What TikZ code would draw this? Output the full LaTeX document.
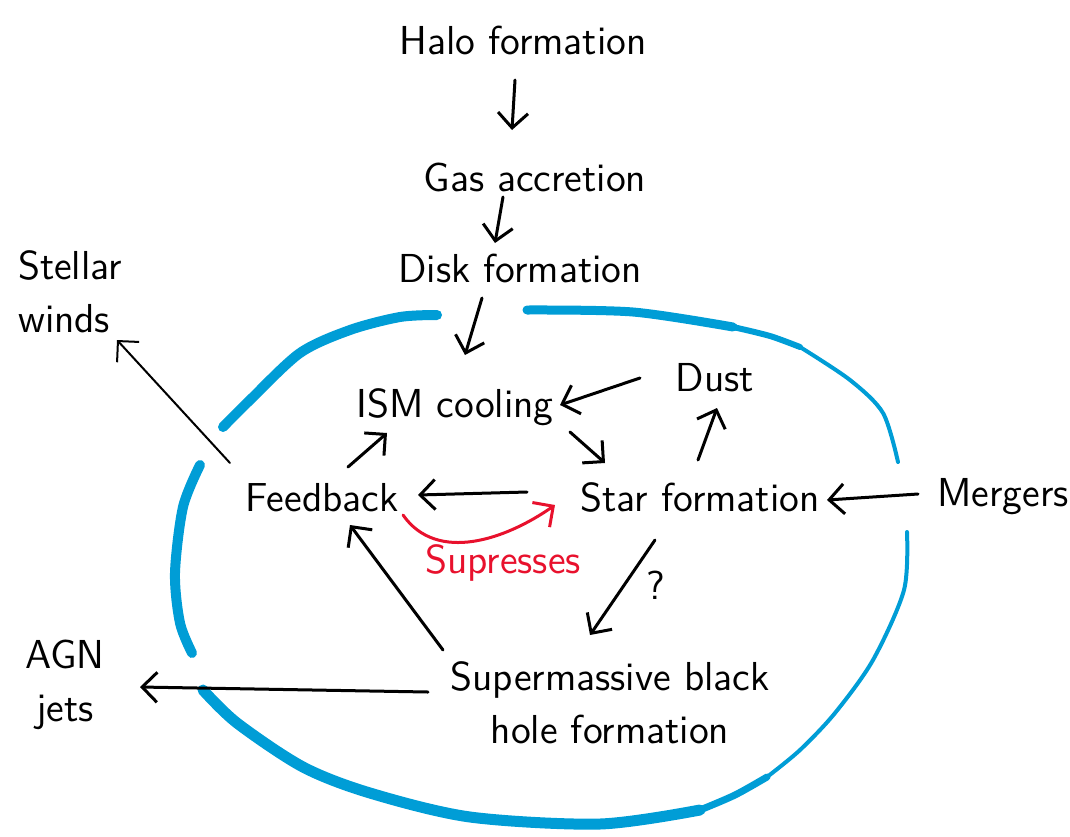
\documentclass[tikz,border=0pt]{standalone}
\usepackage{amsmath, amssymb}
\usepackage{tikz}
\usetikzlibrary{arrows.meta}
\usepackage{xcolor}
\definecolor{diskblue}{RGB}{0,157,214}
\definecolor{supred}{RGB}{232,17,45}
\tikzset{
  lbl/.style={font=\sffamily\fontsize{11.5}{15}\selectfont, inner sep=0pt},
  arr/.style={->, line width=0.3mm, line cap=round},
  rim/.style={diskblue, line cap=round, line join=round},
  >={Straight Barb[length=1.5mm,width=3mm]}
}

\begin{document}
\begin{tikzpicture}[x=0.1mm, y=-0.1mm]
  \useasboundingbox (0,0) rectangle (1070,836);
  % Labels
  \node[lbl] (halo)  at (523,40)  {Halo formation};
  \node[lbl] (gas)   at (535,177) {Gas accretion};
  \node[lbl] (disk)  at (520,268) {Disk formation};
  \node[lbl] (ism)   at (455,407) {ISM cooling};
  \node[lbl] (dust)  at (715,378) {Dust};
  \node[lbl] (feed)  at (322,498) {Feedback};
  \node[lbl] (star)  at (700,497) {Star formation};
  \node[lbl] (merge) at (1003,497) {Mergers};
  \node[lbl, align=center] (smbh) at (610,703) {Supermassive black\\hole formation};
  \node[lbl, align=center] (agn)  at (65,685)  {AGN\\jets};
  \node[lbl, align=left]   (winds) at (70,292) {Stellar\\winds};
  \node[lbl, text=supred]  (sup)  at (503,563) {Supresses};
  \node[lbl] (qmark) at (656,585) {?};
  % Galaxy rim
  \draw[rim, line width=1mm] plot[smooth] coordinates {(223,427) (250,400) (300,353) (350,330) (400,317) (437,315)};
  \draw[rim, line width=0.9mm] plot[smooth] coordinates {(527,310) (633,312) (733,327)};
  \draw[rim, line width=0.6mm] plot[smooth] coordinates {(733,327) (770,336) (800,347)};
  \draw[rim, line width=0.4mm] plot[smooth] coordinates {(800,347) (850,380) (883,413) (898,462)};
  \draw[rim, line width=0.4mm] plot[smooth] coordinates {(907,532) (904,590) (873,660) (835,713) (800,750) (767,777)};
  \draw[rim, line width=0.7mm] plot[smooth] coordinates {(767,777) (735,795) (700,810)};
  \draw[rim, line width=1.1mm] plot[smooth] coordinates {(700,810) (600,824) (470,817) (370,793) (303,767) (237,723) (203,690)};
  \draw[rim, line width=1mm] plot[smooth] coordinates {(200,465) (183,507) (175,573) (180,623) (192,653)};
  % Arrows
  \draw[arr] ([shift={(-8,40)}]halo.center) -- ([shift={(-23,-47)}]gas.center);
  \draw[arr] ([shift={(-32,20)}]gas.center) -- ([shift={(-25,-25)}]disk.center);
  \draw[arr] ([shift={(-38,30)}]disk.center) -- ([shift={(10,-52)}]ism.center);
  \draw[arr] ([shift={(-75,0)}]dust.center) -- ([shift={(105,-2)}]ism.center);
  \draw[arr] ([shift={(115,25)}]ism.center) -- ([shift={(-95,-34)}]star.center);
  \draw[arr] ([shift={(-2,-37)}]star.center) -- ([shift={(2,30)}]dust.center);
  \draw[arr] ([shift={(26,-31)}]feed.center) -- ([shift={(-68,26)}]ism.center);
  \draw[arr] ([shift={(-173,-5)}]star.center) -- ([shift={(96,-3)}]feed.center);
  \draw[arr] ([shift={(-85,-3)}]merge.center) -- ([shift={(127,3)}]star.center);
  \draw[arr] ([shift={(-45,43)}]star.center) -- ([shift={(-20,-68)}]smbh.center);
  \draw[arr] ([shift={(-167,-53)}]smbh.center) -- ([shift={(28,27)}]feed.center);
  \draw[arr] ([shift={(-182,-11)}]smbh.center) -- ([shift={(75,2)}]agn.center);
  \draw[arr, line width=0.2mm] ([shift={(-92,-35)}]feed.center) -- ([shift={(47,48)}]winds.center);
  \draw[arr, supred] ([shift={(81,17)}]feed.center) to[out=-55, in=-145] ([shift={(-145,8)}]star.center);
\end{tikzpicture}
\end{document}
